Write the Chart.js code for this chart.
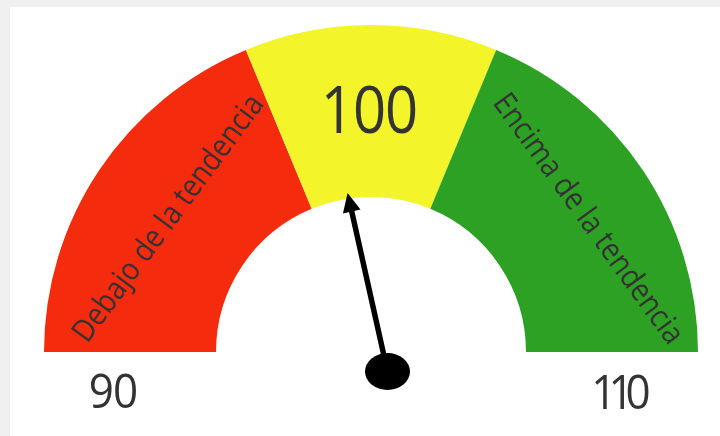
<!DOCTYPE html>
<html>
<head>
<meta charset="utf-8">
<script src="https://cdn.jsdelivr.net/npm/chart.js@4.4.0/dist/chart.umd.min.js"></script>
<style>
  body { margin: 0; background: #f0f0f0; width: 720px; height: 436px; overflow: hidden; }
  #card { position: absolute; left: 10px; top: 7px; width: 710px; height: 429px; background: #fff; }
</style>
</head>
<body>
<div id="card"><canvas id="gauge" width="710" height="429"></canvas></div>
<script>
// gauge data
const bandLabels = ["Debajo de la tendencia", "", "Encima de la tendencia"];
const bandSizes = [7.5, 5, 7.5];
const bandColors = ["#f52b0e", "#f4f42a", "#2ca123"];
const scaleLabels = ["90", "110"];
const scaleMin = 90;
const scaleMax = 110;
const targetValue = 100;
const needleValue = 98.6;

const textColor = "#333";

function stretchedText(ctx, text, x, y, size, sy, spacing) {
  ctx.save();
  ctx.translate(x, y);
  ctx.scale(1, sy);
  ctx.font = size + "px 'Open Sans'";
  ctx.letterSpacing = (spacing || 0) + "px";
  ctx.textAlign = "center";
  ctx.textBaseline = "middle";
  ctx.fillStyle = textColor;
  ctx.fillText(text, 0, 0);
  ctx.restore();
}

const gaugeOverlay = {
  id: "gaugeOverlay",
  afterDatasetsDraw(chart) {
    const ctx = chart.ctx;
    const arcs = chart.getDatasetMeta(0).data;
    const cx = arcs[0].x;
    const cy = arcs[0].y;
    const start = arcs[0].startAngle;
    const end = arcs[arcs.length - 1].endAngle;
    const toAngle = (v) => start + (v - scaleMin) / (scaleMax - scaleMin) * (end - start);

    // band labels, written across the ring
    const labelPlace = [
      { r: 242, a: 146.6, rot: -53.5 },
      null,
      { r: 254, a: 31.5, rot: 54 },
    ];
    bandLabels.forEach((label, i) => {
      const p = labelPlace[i];
      if (!label || !p) return;
      const a = (p.a * Math.PI) / 180;
      ctx.save();
      ctx.translate(cx + p.r * Math.cos(a), cy - p.r * Math.sin(a));
      ctx.rotate((p.rot * Math.PI) / 180);
      ctx.scale(1, 1.12);
      ctx.font = "28px 'Open Sans'";
      ctx.textAlign = "center";
      ctx.textBaseline = "middle";
      ctx.fillStyle = textColor;
      ctx.fillText(label, 0, 0);
      ctx.restore();
    });

    // target value in the middle band
    stretchedText(ctx, String(targetValue), cx - 2, cy - 238, 58, 1.13, -1);

    // min / max under the ends of the ring
    stretchedText(ctx, scaleLabels[0], cx - 258, cy + 42, 44, 1.1, -1);
    stretchedText(ctx, scaleLabels[1], cx + 246, cy + 43, 44, 1.1, -8);

    // needle
    const px = cx + 16.5;
    const py = cy + 19.5;
    const ang = toAngle(needleValue);
    const len = 183;
    const head = 19;
    const dx = Math.cos(ang);
    const dy = Math.sin(ang);
    const tx = px + dx * len;
    const ty = py + dy * len;
    const bx = tx - dx * head;
    const by = ty - dy * head;

    ctx.save();
    ctx.strokeStyle = "#000";
    ctx.fillStyle = "#000";
    ctx.lineWidth = 5.5;
    ctx.beginPath();
    ctx.moveTo(px, py);
    ctx.lineTo(bx + dx * 2, by + dy * 2);
    ctx.stroke();

    ctx.beginPath();
    ctx.moveTo(tx, ty);
    ctx.lineTo(bx - dy * 9, by + dx * 9);
    ctx.lineTo(bx + dy * 9, by - dx * 9);
    ctx.closePath();
    ctx.fill();

    ctx.beginPath();
    ctx.ellipse(px, py, 22.5, 18.5, 0, 0, Math.PI * 2);
    ctx.fill();
    ctx.restore();
  },
};

new Chart(document.getElementById("gauge"), {
  type: "doughnut",
  data: {
    labels: bandLabels,
    datasets: [
      {
        data: bandSizes,
        backgroundColor: bandColors,
        borderWidth: 0,
        hoverOffset: 0,
      },
    ],
  },
  options: {
    responsive: false,
    animation: false,
    rotation: -90,
    circumference: 180,
    cutout: "47.4%",
    events: [],
    layout: {
      padding: { top: 18, bottom: 84, left: 20, right: 8 },
    },
    plugins: {
      legend: { display: false },
      tooltip: { enabled: false },
    },
  },
  plugins: [gaugeOverlay],
});
</script>
</body>
</html>
